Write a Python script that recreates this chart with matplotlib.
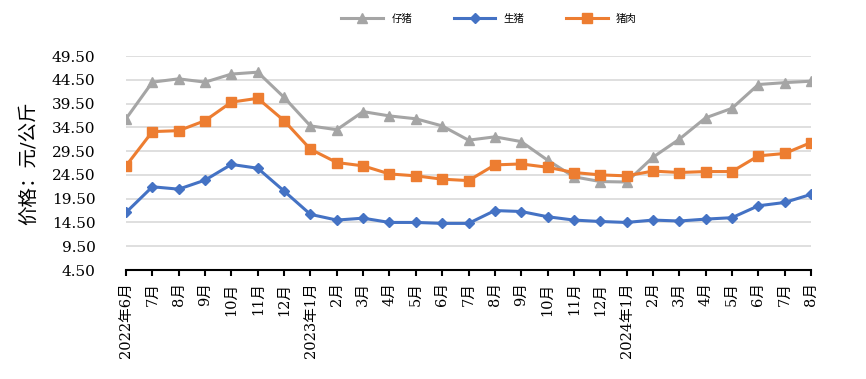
import matplotlib.pyplot as plt

# 2022-06 .. 2024-08, monthly
months = ["2022年6月", "7月", "8月", "9月", "10月", "11月", "12月",
          "2023年1月", "2月", "3月", "4月", "5月", "6月", "7月", "8月", "9月",
          "10月", "11月", "12月", "2024年1月", "2月", "3月", "4月", "5月",
          "6月", "7月", "8月"]

piglet = [36.3, 44.0, 44.7, 44.0, 45.7, 46.1, 40.8, 34.8, 34.0, 37.8, 36.9,
          36.3, 34.8, 31.8, 32.5, 31.5, 27.6, 24.1, 23.1, 23.0, 28.2, 32.0,
          36.5, 38.5, 43.5, 43.9, 44.2]
live_hog = [16.6, 22.0, 21.5, 23.4, 26.7, 25.9, 21.1, 16.2, 15.0, 15.4, 14.5,
            14.5, 14.3, 14.3, 17.0, 16.8, 15.7, 15.0, 14.7, 14.5, 15.0, 14.8,
            15.2, 15.5, 18.0, 18.7, 20.4]
pork = [26.4, 33.6, 33.8, 35.9, 39.8, 40.6, 35.9, 29.9, 27.1, 26.4, 24.7,
        24.3, 23.6, 23.3, 26.6, 26.8, 26.1, 25.0, 24.5, 24.3, 25.3, 25.0,
        25.2, 25.2, 28.5, 29.0, 31.3]

yticks = [4.5 + 5 * i for i in range(10)]

fonts = ['DejaVu Serif', 'Noto Sans CJK SC']
plt.rcParams['font.family'] = fonts

fig = plt.figure(figsize=(8.66, 3.79), dpi=100)
ax = fig.add_axes([126 / 866, 1 - 270 / 379, (811 - 126) / 866, (270 - 56) / 379])

x = list(range(len(months)))
ax.plot(x, piglet, color='#A5A5A5', lw=2.2, marker='^', ms=7, label='仔猪')
ax.plot(x, live_hog, color='#4472C4', lw=2.2, marker='D', ms=5.5, label='生猪')
ax.plot(x, pork, color='#ED7D31', lw=2.2, marker='s', ms=7, label='猪肉')

ax.set_xlim(0, len(months) - 1)
ax.set_ylim(4.5, 49.5)
ax.set_yticks(yticks)
ax.set_yticklabels([f"{v:.2f}" for v in yticks], fontsize=11)
ax.set_xticks(x)
ax.set_xticklabels(months, rotation=90, fontsize=10.5)

ax.grid(axis='y', color='#D9D9D9', lw=1.2)
ax.set_axisbelow(True)
for s in ['top', 'right', 'left']:
    ax.spines[s].set_visible(False)
ax.spines['bottom'].set_color('black')
ax.spines['bottom'].set_linewidth(1.5)
ax.tick_params(axis='y', length=0, pad=22)
ax.tick_params(axis='x', direction='out', length=4, width=1.5, pad=5)

ax.set_ylabel('价格：元/公斤', fontsize=14, labelpad=10)

ax.legend(loc='upper center', bbox_to_anchor=(0.53, 1.24), ncol=3, frameon=False,
          fontsize=7.5, handlelength=4, columnspacing=4)

plt.savefig('out.png', dpi=100)
